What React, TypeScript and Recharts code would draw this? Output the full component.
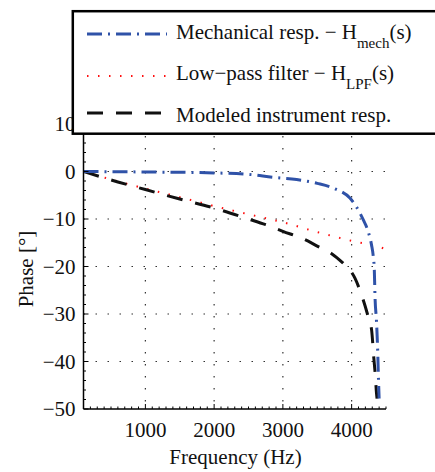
import { LineChart, Line, XAxis, YAxis, CartesianGrid } from 'recharts';

const mechHz = [100, 1000, 2000, 2500, 2850, 3200, 3500, 3750, 3975, 4080, 4170, 4240, 4290, 4315, 4330, 4340, 4362, 4377, 4391, 4400];
const mechDeg = [0, -0.1, -0.3, -0.6, -1.2, -1.7, -2.5, -3.6, -5.6, -7.7, -10.2, -12.6, -15.5, -17.9, -20.7, -26.3, -31.6, -36.8, -43.9, -47.8];

const lpfHz = [100, 432, 1000, 1500, 2033, 2528, 3003, 3512, 3998, 4483, 4500];
const lpfDeg = [0, -1.4, -3.6, -5.4, -7.4, -9.1, -10.7, -12.8, -14.6, -16.3, -16.4];

const instHz = [100, 600, 1000, 1500, 2000, 2500, 2750, 3000, 3300, 3500, 3700, 3876, 3974, 4050, 4120, 4168, 4230, 4290, 4323, 4345, 4362, 4370];
const instDeg = [0, -2.2, -3.8, -5.8, -7.7, -10.0, -11.2, -12.6, -14.2, -15.7, -17.2, -19.3, -20.7, -22.5, -25, -27, -30, -33.3, -39.3, -43, -46.7, -47.8];

const majorHz = [1000, 2000, 3000, 4000];
const majorDeg = [-50, -40, -30, -20, -10, 0, 10];

const minorHz = Array.from({ length: 45 }, (_, i) => 100 + i * 100);
const minorDeg = Array.from({ length: 31 }, (_, i) => -50 + i * 2);

const zip = (hz: number[], deg: number[]) => hz.map((f, i) => ({ f, p: deg[i] }));

const FONT = '"Liberation Serif", "Times New Roman", serif';
const FS = 21;
const BLUE = '#2f52a8';
const RED = '#ff1010';
const DASH_MECH = '15 6 2 6';
const DASH_LPF = '1.5 9.5';
const DASH_INST = '16 13';

const fmt = (v: number) => (v < 0 ? `\u2212${-v}` : `${v}`);

const XTick = (props: any) => {
  const { x, y, payload } = props;
  const v = payload.value;
  const major = v % 1000 === 0;
  return (
    <g>
      <line x1={x} x2={x} y1={y} y2={y - (major ? 5 : 2.5)} stroke="#000" strokeWidth={1} />
      {major && (
        <text x={x} y={y + 28} textAnchor="middle" fontSize={FS} fontFamily={FONT} fill="#111">
          {v}
        </text>
      )}
    </g>
  );
};

const YTick = (props: any) => {
  const { x, y, payload } = props;
  const v = payload.value;
  const major = v % 10 === 0;
  return (
    <g>
      <line x1={x} x2={x + (major ? 5 : 2.5)} y1={y} y2={y} stroke="#000" strokeWidth={1} />
      {major && (
        <text x={x - 8} y={y + 7} textAnchor="end" fontSize={FS} fontFamily={FONT} fill="#111">
          {fmt(v)}
        </text>
      )}
    </g>
  );
};

function LegendBox() {
  const rows = [
    { y: 34, base: 39, color: BLUE, dash: DASH_MECH, w: 3, main: 'Mechanical resp. \u2212 H', sub: 'mech', tail: '(s)' },
    { y: 76, base: 80, color: RED, dash: DASH_LPF, w: 2, main: 'Low\u2212pass filter \u2212 H', sub: 'LPF', tail: '(s)' },
    { y: 113, base: 122, color: '#111', dash: DASH_INST, w: 3, main: 'Modeled instrument resp.', sub: '', tail: '' },
  ];
  return (
    <svg width={435} height={140} style={{ position: 'absolute', left: 0, top: 0 }}>
      <rect x={72.8} y={11.2} width={400} height={122.5} fill="#fff" stroke="#000" strokeWidth={2.5} />
      {rows.map((r) => (
        <g key={r.main}>
          <line x1={87} x2={167} y1={r.y} y2={r.y} stroke={r.color} strokeWidth={r.w} strokeDasharray={r.dash} />
          <text x={176} y={r.base} fontSize={FS} fontFamily={FONT} fill="#111">
            {r.main}
            {r.sub && (
              <tspan fontSize={15} dy={9}>
                {r.sub}
              </tspan>
            )}
            {r.tail && <tspan dy={-9}>{r.tail}</tspan>}
          </text>
        </g>
      ))}
    </svg>
  );
}

export default function App() {
  return (
    <div style={{ position: 'absolute', left: 0, top: 0, width: 435, height: 472, overflow: 'hidden', background: '#fff', fontFamily: FONT }}>
      <LineChart width={435} height={472} margin={{ top: 124, right: 49, bottom: 33, left: 0 }}>
        <CartesianGrid
          horizontal
          vertical
          verticalValues={majorHz}
          horizontalValues={majorDeg.filter((d) => d > -50)}
          stroke="#333"
          strokeWidth={1.2}
          strokeDasharray="1.5 10.5"
        />
        <XAxis
          dataKey="f"
          type="number"
          domain={[100, 4500]}
          ticks={minorHz}
          interval={0}
          allowDataOverflow
          tickSize={0}
          tickMargin={0}
          tickLine={false}
          tick={<XTick />}
          height={30}
          axisLine={{ stroke: '#000', strokeWidth: 1.5 }}
          label={{
            content: () => (
              <text x={235.5} y={464} textAnchor="middle" fontSize={FS} fontFamily={FONT} fill="#111">
                Frequency (Hz)
              </text>
            ),
          }}
        />
        <YAxis
          type="number"
          domain={[-50, 10]}
          ticks={minorDeg}
          interval={0}
          allowDataOverflow
          width={83.5}
          tickSize={0}
          tickMargin={0}
          tickLine={false}
          tick={<YTick />}
          axisLine={{ stroke: '#000', strokeWidth: 1.5 }}
          label={{
            content: () => (
              <text transform="translate(33,269) rotate(-90)" textAnchor="middle" fontSize={FS} fontFamily={FONT} fill="#111">
                Phase [°]
              </text>
            ),
          }}
        />
        <Line data={zip(lpfHz, lpfDeg)} dataKey="p" type="monotone" stroke={RED} strokeWidth={2} strokeDasharray={DASH_LPF} dot={false} isAnimationActive={false} />
        <Line data={zip(instHz, instDeg)} dataKey="p" type="monotone" stroke="#111" strokeWidth={3} strokeDasharray={DASH_INST} dot={false} isAnimationActive={false} />
        <Line data={zip(mechHz, mechDeg)} dataKey="p" type="monotone" stroke={BLUE} strokeWidth={3} strokeDasharray={DASH_MECH} dot={false} isAnimationActive={false} />
      </LineChart>
      <LegendBox />
    </div>
  );
}
